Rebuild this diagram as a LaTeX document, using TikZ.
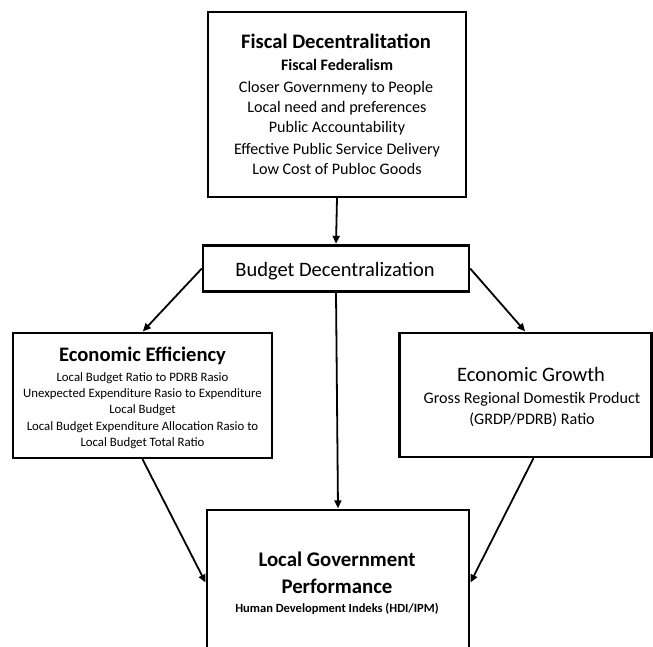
\documentclass[tikz,border=0pt]{standalone}
\usepackage{fontspec}
\setmainfont{Carlito}
\usetikzlibrary{arrows.meta}
\tikzset{
  box/.style={draw=black, line width=2.4pt, fill=white},
  txt/.style={anchor=base, inner sep=0pt, text=black},
  big/.style={txt, font=\fontsize{20.6}{24}\selectfont\bfseries},
  mid/.style={txt, font=\fontsize{16.1}{20}\selectfont},
  midb/.style={txt, font=\fontsize{16}{20}\selectfont\bfseries},
  small/.style={txt, font=\fontsize{12.8}{15}\selectfont},
  conn/.style={line width=1.8pt, -{Triangle[length=8pt,width=7pt]}, shorten >=0.5pt}
}
\begin{document}
\begin{tikzpicture}[x=1pt,y=-1pt]
\useasboundingbox (0,0) rectangle (653,646);
% boxes
\node[box, minimum width=258pt, minimum height=185pt] (fd) at (337,104.5) {};
\node[box, minimum width=266pt, minimum height=46pt] (bd) at (336,268.5) {};
\node[box, minimum width=259pt, minimum height=125pt] (ee) at (142.5,395.5) {};
\node[box, minimum width=252pt, minimum height=124pt] (eg) at (525.5,395) {};
\node[box, minimum width=262pt, minimum height=146pt] (lgp) at (338,583) {};
% top box text
\node[big] (fd1) at (336,48.5) {Fiscal Decentralitation};
\node[midb] (fd2) at (337,70) {Fiscal Federalism};
\node[mid] (fd3) at (336,92) {Closer Governmeny to People};
\node[mid] (fd4) at (337,112) {Local need and preferences};
\node[mid] (fd5) at (337,132) {Public Accountability};
\node[mid] (fd6) at (337,154) {Effective Public Service Delivery};
\node[mid] (fd7) at (337,174) {Low Cost of Publoc Goods};
% budget
\node[txt, font=\fontsize{20.5}{24}\selectfont] (bd1) at (335,276) {Budget Decentralization};
% economic efficiency
\node[txt, font=\fontsize{20.6}{24}\selectfont\bfseries] (ee1) at (142.5,361) {Economic Efficiency};
\node[small] (ee2) at (142.5,381) {Local Budget Ratio to PDRB Rasio};
\node[small] (ee3) at (142.5,397) {Unexpected Expenditure Rasio to Expenditure};
\node[small] (ee4) at (142.5,413) {Local Budget};
\node[small] (ee5) at (142.5,430) {Local Budget Expenditure Allocation Rasio to};
\node[small] (ee6) at (142.5,446) {Local Budget Total Ratio};
% economic growth
\node[txt, font=\fontsize{20.5}{24}\selectfont] (eg1) at (531,381) {Economic Growth};
\node[mid] (eg2) at (532,403) {Gross Regional Domestik Product};
\node[mid] (eg3) at (532,424) {(GRDP/PDRB) Ratio};
% local government performance
\node[txt, font=\fontsize{20.8}{27}\selectfont\bfseries] (lg1) at (337,566) {Local Government};
\node[txt, font=\fontsize{20.8}{27}\selectfont\bfseries] (lg2) at (337,593) {Performance};
\node[txt, font=\fontsize{12.5}{15}\selectfont\bfseries] (lg3) at (337,612) {Human Development Indeks (HDI/IPM)};
% connectors
\draw[conn] (fd.south) -- (bd.north);
\draw[conn] (bd.west) -- (ee.north);
\draw[conn] (bd.east) -- (eg.north);
\draw[conn] (bd.south) -- (lgp.north);
\draw[conn] (ee.south) -- (lgp.west);
\draw[conn] ([xshift=8pt]eg.south) -- (lgp.east);
\end{tikzpicture}
\end{document}
